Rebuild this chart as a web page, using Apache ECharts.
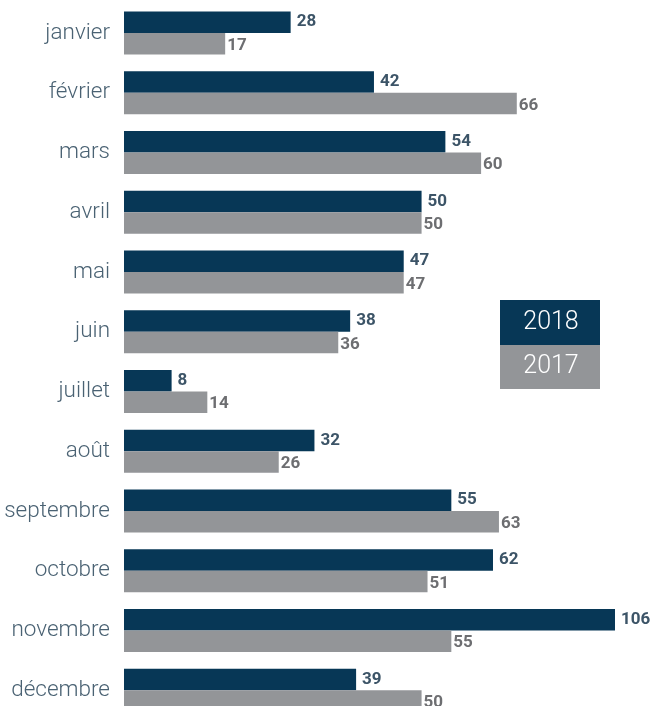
<!DOCTYPE html>
<html><head><meta charset="utf-8">
<script src="https://cdn.jsdelivr.net/npm/echarts@6/dist/echarts.min.js"></script>
<style>html,body{margin:0;padding:0;background:#fff;overflow:hidden}#c{width:658px;height:720px}</style>
</head><body><div id="c"></div>
<script>
const months = ['janvier','février','mars','avril','mai','juin','juillet','août','septembre','octobre','novembre','décembre'];
const seriesNames = ['2018','2017'];
const values2018 = [28,42,54,50,47,38,8,32,55,62,106,39];
const values2017 = [17,66,60,50,47,36,14,26,63,51,55,50];
const colors = ['#073756','#939598'];
const labelColors = ['#3c5467','#6d6e71'];

const chart = echarts.init(document.getElementById('c'));
chart.setOption({
  animation:false,
  grid:{left:124,right:43,top:3,bottom:0},
  xAxis:{type:'value',min:0,max:82.5,show:false},
  yAxis:{type:'category',data:months,inverse:true,
    axisLine:{show:false},axisTick:{show:false},
    axisLabel:{fontFamily:'Roboto',fontWeight:300,fontSize:22.5,color:'#4a6273',margin:14}},
  series:[
    {name:seriesNames[0],type:'bar',data:values2018,barWidth:21.5,barGap:'0%',
     itemStyle:{color:colors[0]},
     label:{show:true,position:'right',distance:6,fontFamily:'Roboto',fontWeight:'bold',fontSize:17,color:labelColors[0]}},
    {name:seriesNames[1],type:'bar',data:values2017,barWidth:21.5,barGap:'0%',
     itemStyle:{color:colors[1]},
     label:{show:true,position:'right',distance:2,offset:[0,2],fontFamily:'Roboto',fontWeight:'bold',fontSize:17,color:labelColors[1]}}
  ],
  graphic:[
    {type:'group',left:500,top:300,children:[
      {type:'rect',shape:{x:0,y:0,width:100,height:45},style:{fill:colors[0]}},
      {type:'text',x:51,y:23,style:{text:seriesNames[0],fill:'#fff',font:'300 25px Roboto',align:'center',verticalAlign:'middle'}},
      {type:'rect',shape:{x:0,y:45,width:100,height:44},style:{fill:colors[1]}},
      {type:'text',x:51,y:67,style:{text:seriesNames[1],fill:'#fff',font:'300 25px Roboto',align:'center',verticalAlign:'middle'}}
    ]}
  ]
});
</script></body></html>
